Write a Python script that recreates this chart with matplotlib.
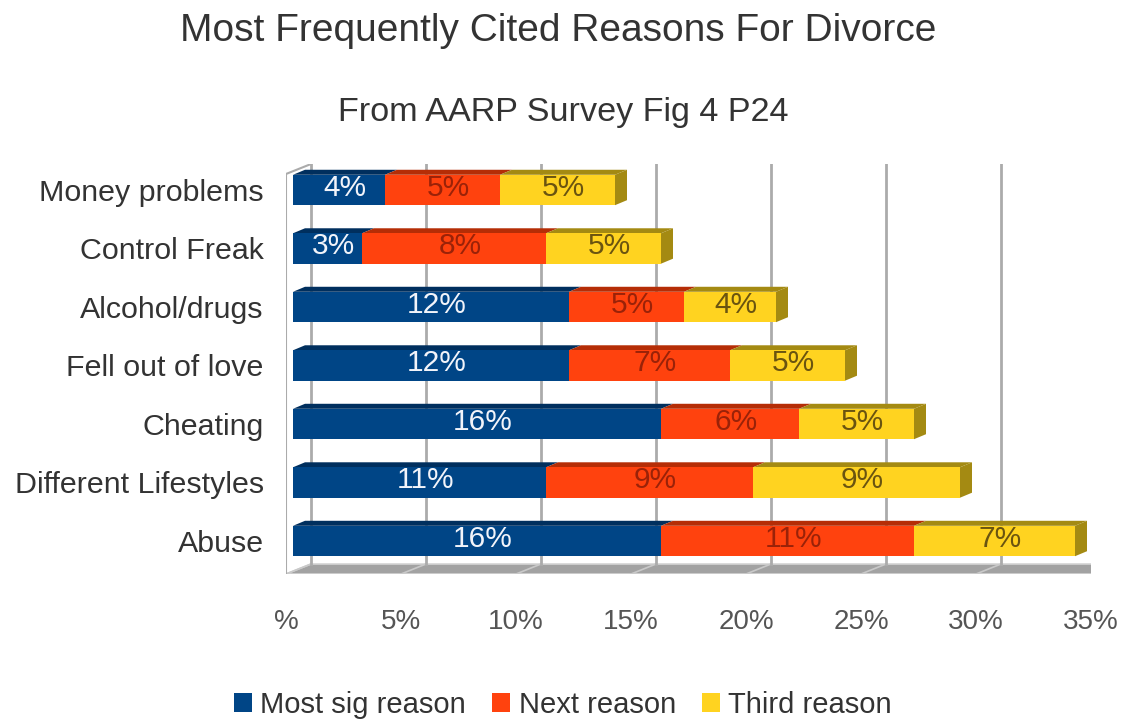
import matplotlib
matplotlib.use("Agg")
import matplotlib.pyplot as plt
from matplotlib.patches import Polygon, Patch

plt.rcParams['font.family'] = ['Liberation Sans', 'DejaVu Sans']

# data, bottom row first
categories = ["Abuse", "Different Lifestyles", "Cheating", "Fell out of love",
              "Alcohol/drugs", "Control Freak", "Money problems"]
most_sig = [16, 11, 16, 12, 12, 3, 4]
next_reason = [11, 9, 6, 7, 5, 8, 5]
third_reason = [7, 9, 5, 5, 4, 5, 5]
series_names = ["Most sig reason", "Next reason", "Third reason"]
tick_vals = [0, 5, 10, 15, 20, 25, 30, 35]
tick_labels = ["%", "5%", "10%", "15%", "20%", "25%", "30%", "35%"]

colors = ["#004586", "#ff420e", "#ffd320"]
dark = ["#002f5e", "#b52d06", "#a48a12"]
text_cols = ["#f2f4fa", "#9a2208", "#6a5410"]

W, H = 1127, 721
fig = plt.figure(figsize=(W / 100, H / 100), dpi=100)
# axes = front plane of the 3d box (pixels)
left, right, bottom, top = 286, 1091, 574, 164
ax = fig.add_axes([left / W, 1 - bottom / H, (right - left) / W, (bottom - top) / H])
ymin, ymax = -0.564, 6.444
ax.set_xlim(0, 35)
ax.set_ylim(ymin, ymax)

ux = (right - left) / 35.0          # px per data unit x
uy = (bottom - top) / (ymax - ymin)  # px per data unit y

# depth offsets
bdx, bdy = 25 / ux, 10 / uy   # back wall
sx = 7 / ux                   # bar front shift
cdx, cdy = 12 / ux, 5 / uy    # bar depth
grid_col = "#ababab"

# floor
floor = Polygon([(0, ymin), (35, ymin), (35 + bdx, ymin + bdy), (bdx, ymin + bdy)],
                closed=True, facecolor="#a2a2a2", edgecolor="#d4d4d4", lw=1.2, zorder=0.2)
ax.add_patch(floor)
for t in tick_vals:
    ax.plot([t, t + bdx], [ymin, ymin + bdy], color="#c9c9c9", lw=1.2, zorder=0.3)

# back wall grid lines
for t in tick_vals:
    ax.plot([t + bdx, t + bdx], [ymin + bdy, ymax], color=grid_col, lw=2, zorder=0.4)

# left wall
ax.plot([0, 0], [ymin, ymax - bdy], color=grid_col, lw=1.5, zorder=0.5)
ax.plot([0, bdx], [ymax - bdy, ymax], color=grid_col, lw=1.5, zorder=0.5)

ypos = list(range(len(categories)))
bh = 0.52
series = [most_sig, next_reason, third_reason]
lefts = [0] * len(categories)
for s, vals in enumerate(series):
    for i, v in enumerate(vals):
        x0 = lefts[i] + sx
        x1 = x0 + v
        yt = ypos[i] + bh / 2
        # top face
        ax.add_patch(Polygon([(x0, yt), (x1, yt), (x1 + cdx, yt + cdy), (x0 + cdx, yt + cdy)],
                             closed=True, facecolor=dark[s], edgecolor="none", zorder=2))
        if s == len(series) - 1:
            yb = ypos[i] - bh / 2
            ax.add_patch(Polygon([(x1, yb), (x1 + cdx, yb + cdy), (x1 + cdx, yt + cdy), (x1, yt)],
                                 closed=True, facecolor=dark[s], edgecolor="none", zorder=2))
        ax.text((x0 + x1 + cdx) / 2, ypos[i] + 0.04, f"{v}%", ha="center", va="center",
                fontsize=21.5, color=text_cols[s], zorder=5)
    ax.barh(ypos, vals, left=[l + sx for l in lefts], height=bh, color=colors[s],
            edgecolor="none", zorder=3)
    lefts = [l + v for l, v in zip(lefts, vals)]

ax.set_xticks(tick_vals)
ax.set_xticklabels(tick_labels, fontsize=20, color="#555555")
ax.set_yticks(ypos)
ax.set_yticklabels(categories, fontsize=21.9, color="#333333")
ax.tick_params(axis="x", length=0, pad=25)
ax.tick_params(axis="y", length=0, pad=16)
for sp in ax.spines.values():
    sp.set_visible(False)
ax.patch.set_visible(False)

fig.text(558 / W, 1 - 31 / H, "Most Frequently Cited Reasons For Divorce",
         ha="center", va="center", fontsize=28, color="#333333")
fig.text(563 / W, 1 - 113 / H, "From AARP Survey Fig 4 P24",
         ha="center", va="center", fontsize=24.6, color="#333333")

handles = [Patch(facecolor=c, edgecolor="none") for c in colors]
fig.legend(handles, series_names, loc="center", bbox_to_anchor=(563 / W, 1 - 705 / H),
           ncol=3, frameon=False, fontsize=21, handlelength=0.6, handleheight=0.6,
           handletextpad=0.3, columnspacing=0.9, labelcolor="#333333")

fig.savefig("out.png", dpi=100)
